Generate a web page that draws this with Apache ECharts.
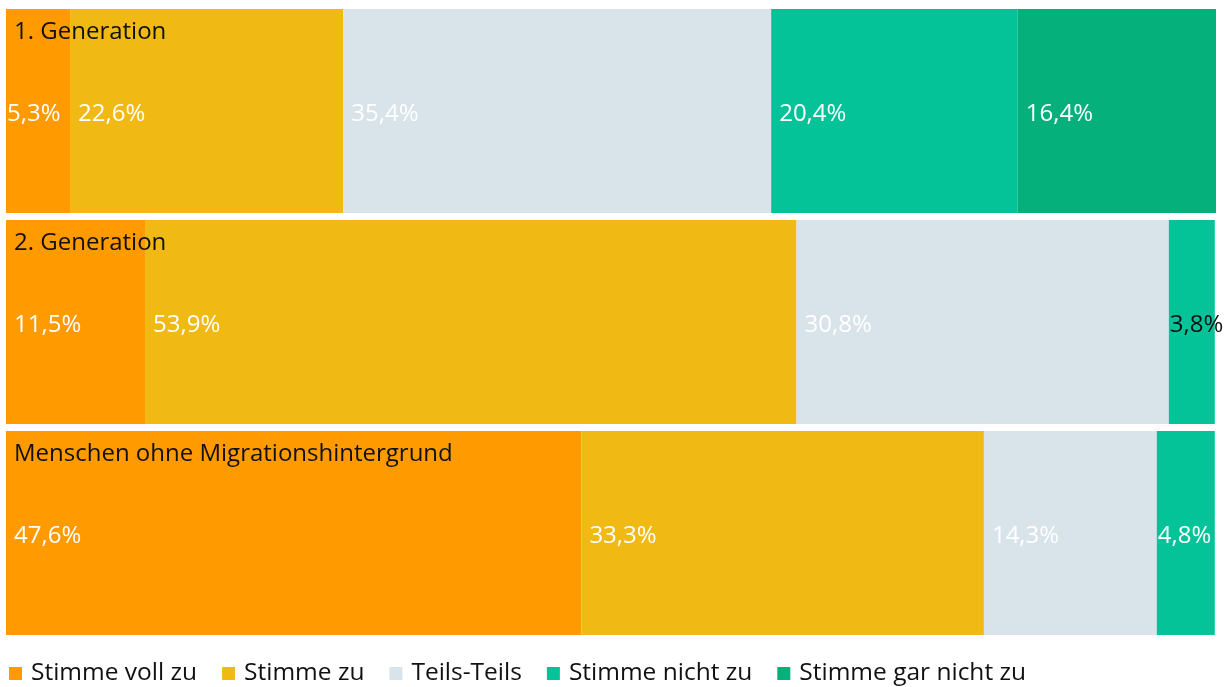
<!DOCTYPE html>
<html>
<head>
<meta charset="utf-8">
<script src="https://cdn.jsdelivr.net/npm/echarts@6/dist/echarts.min.js"></script>
<style>
  html, body { margin: 0; padding: 0; background: #fff; }
  #chart { width: 1232px; height: 687px; }
</style>
</head>
<body>
<div id="chart"></div>
<script>
var categories = ['1. Generation', '2. Generation', 'Menschen ohne Migrationshintergrund'];
var answers = ['Stimme voll zu', 'Stimme zu', 'Teils-Teils', 'Stimme nicht zu', 'Stimme gar nicht zu'];
var vollZu = [5.3, 11.5, 47.6];
var zu = [22.6, 53.9, 33.3];
var teils = [35.4, 30.8, 14.3];
var nichtZu = [20.4, 3.8, 4.8];
var garNichtZu = [16.4, 0, 0];
var colors = ['#FF9A00', '#F1B913', '#D9E4EA', '#04C399', '#05B07B'];

var values = [vollZu, zu, teils, nichtZu, garNichtZu];
var font = '"Open Sans", sans-serif';

var chart = echarts.init(document.getElementById('chart'));

var series = answers.map(function (name, i) {
  return {
    name: name,
    type: 'bar',
    stack: 'total',
    barWidth: 204,
    itemStyle: { color: colors[i] },
    data: values[i].map(function (v, j) {
      var item = { value: v };
      if (v > 0 && v < 6) {
        // narrow segments: label hugs the edge
        item.label = { distance: 1, color: (j === 1 ? '#111' : '#fff') };
      }
      return item;
    }),
    label: {
      show: true,
      position: 'insideLeft',
      distance: 8,
      offset: [0, 3],
      color: '#fff',
      fontFamily: font,
      fontSize: 24,
      formatter: function (p) {
        if (!p.value) return '';
        return p.value.toFixed(1).replace('.', ',') + '%';
      }
    }
  };
});

chart.setOption({
  animation: false,
  textStyle: { fontFamily: font },
  grid: { left: 6, right: 16, top: 5.5, bottom: 48.5, containLabel: false },
  legend: {
    data: answers,
    left: 4,
    top: 656,
    icon: 'rect',
    itemWidth: 13,
    itemHeight: 13,
    itemGap: 25,
    textStyle: { fontSize: 24.5, color: '#111', fontFamily: font, padding: [0, 0, 0, 4] }
  },
  xAxis: {
    type: 'value',
    min: 0,
    max: 100.1,
    show: false
  },
  yAxis: {
    type: 'category',
    data: categories,
    inverse: true,
    z: 10,
    axisLine: { show: false },
    axisTick: { show: false },
    axisLabel: {
      inside: true,
      margin: 8,
      align: 'left',
      verticalAlign: 'bottom',
      padding: [0, 0, 67, 0],
      color: '#111',
      fontFamily: font,
      fontSize: 24
    }
  },
  series: series
});
</script>
</body>
</html>
